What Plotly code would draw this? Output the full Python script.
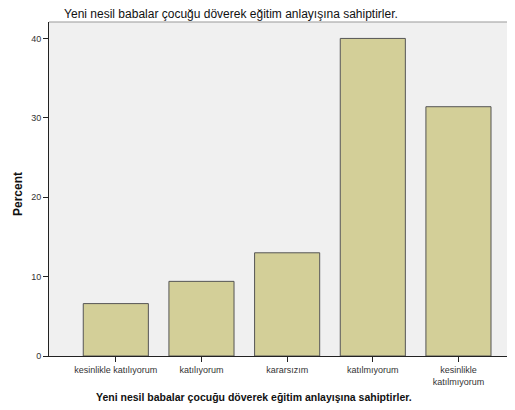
import plotly.graph_objects as go

categories = ['kesinlikle katılıyorum', 'katılıyorum', 'kararsızım', 'katılmıyorum',
              'kesinlikle<br>katılmıyorum']
percent = [6.6, 9.4, 13.0, 40.0, 31.4]
y_ticks = [0, 10, 20, 30, 40]

title_text = 'Yeni nesil babalar çocuğu döverek eğitim anlayışına sahiptirler.'

# the page body adds an 8px margin, so the figure is shrunk by that amount
W, H = 507, 402
L, T, B = 41, 14, 54
pw, ph = W - L, H - T - B

fig = go.Figure(go.Bar(
    x=categories, y=percent,
    width=0.76,
    marker=dict(color='#d3cf98', line=dict(color='#555555', width=1)),
))

fig.update_layout(
    width=W, height=H,
    margin=dict(l=L, r=0, t=T, b=B, autoexpand=False),
    paper_bgcolor='white', plot_bgcolor='#f0f0f0',
    font=dict(family='Liberation Sans, Arial, sans-serif', color='#222222'),
    showlegend=False,
    title=dict(text=title_text, x=223 / W, xanchor='center', y=1 - 2 / H, yanchor='top',
               pad=dict(t=0, b=0), font=dict(size=12, color='#111111')),
    annotations=[
        dict(text='<b>' + title_text + '</b>', xref='paper', yref='paper',
             x=(246 - L) / pw, y=-(389 - (H - B)) / ph, xanchor='center', yanchor='middle',
             showarrow=False, font=dict(size=10.5, color='#111111')),
        dict(text='<b>Percent</b>', xref='paper', yref='paper',
             x=-(L - 10) / pw, y=((H - B) - 186) / ph, xanchor='center', yanchor='middle',
             textangle=-90, showarrow=False, font=dict(size=12, color='#111111')),
    ],
)

fig.update_xaxes(
    type='category', range=[-0.78, 4.66],
    showline=True, linecolor='#222222', linewidth=1, mirror=False,
    ticks='outside', ticklen=5, tickcolor='#222222',
    tickfont=dict(size=9, color='#333333'), showgrid=False,
)
fig.update_yaxes(
    range=[0, 42.07], tickvals=y_ticks,
    showline=True, linecolor='#222222', linewidth=1,
    ticks='outside', ticklen=5, tickcolor='#222222',
    tickfont=dict(size=9, color='#333333'), showgrid=False, zeroline=False,
)

# grey frame line along the top of the plot area
fig.add_shape(type='line', xref='paper', yref='paper', x0=0, x1=1, y0=1, y1=1,
              line=dict(color='#999999', width=1))

fig.write_html('out.html')
